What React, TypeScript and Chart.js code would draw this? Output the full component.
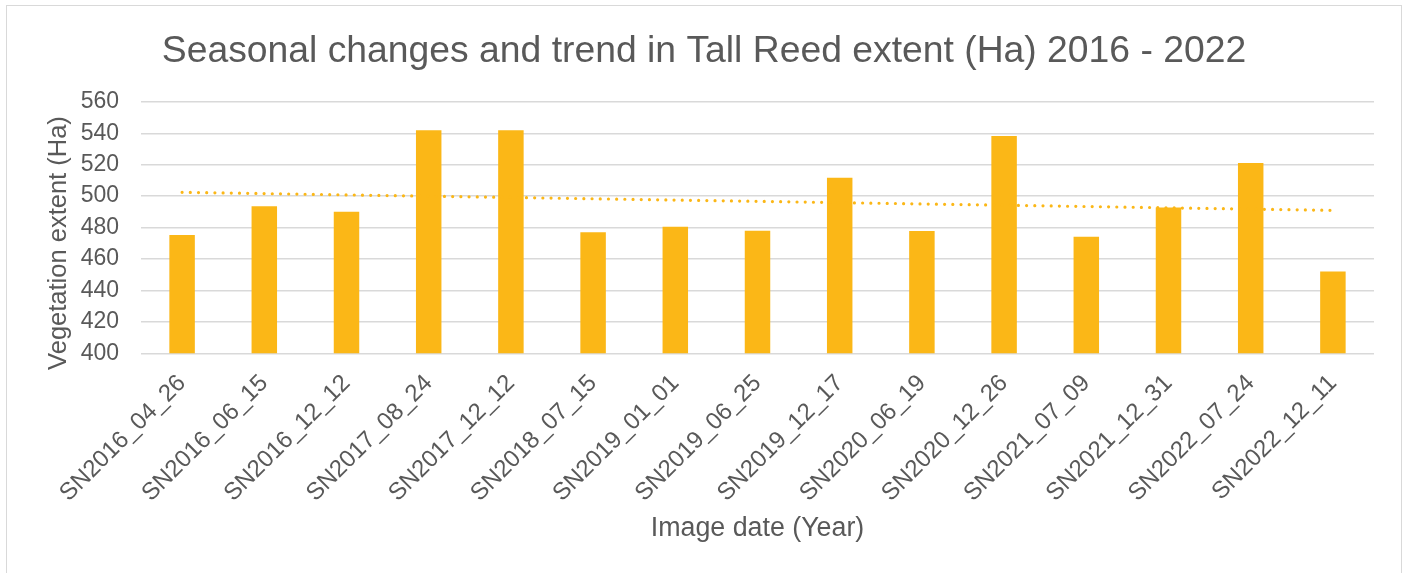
import { useEffect, useRef } from 'react';
import { Chart, registerables } from 'chart.js';

Chart.register(...registerables);

// Sentinel image acquisition dates (x categories)
const imageDates = [
  'SN2016_04_26',
  'SN2016_06_15',
  'SN2016_12_12',
  'SN2017_08_24',
  'SN2017_12_12',
  'SN2018_07_15',
  'SN2019_01_01',
  'SN2019_06_25',
  'SN2019_12_17',
  'SN2020_06_19',
  'SN2020_12_26',
  'SN2021_07_09',
  'SN2021_12_31',
  'SN2022_07_24',
  'SN2022_12_11',
];

// Tall Reed extent per image (Ha)
const tallReedHa = [
  475.2, 493.5, 490.0, 541.8, 541.8, 477.0, 480.5, 478.0, 511.7, 477.8, 538.2, 474.2, 492.8,
  521.0, 452.0,
];

// Linear trend line: value at the first and at the last image date
const trendStartHa = 502.4;
const trendEndHa = 490.9;

// Value axis range and step
const yMin = 400;
const yMax = 560;
const yStep = 20;

const chartTitle = 'Seasonal changes and trend in Tall Reed extent (Ha) 2016 - 2022';
const xAxisTitle = 'Image date (Year)';
const yAxisTitle = 'Vegetation extent (Ha)';

const GOLD = '#FBB717';
const TEXT = '#595959';
const GRID = '#D9D9D9';
const FONT = '"Liberation Sans", Arial, Helvetica, sans-serif';

// Trend series: only its two ends carry values, the line spans the gap
const trendSeries = imageDates.map((_, i) =>
  i === 0 ? trendStartHa : i === imageDates.length - 1 ? trendEndHa : null
);

// Draws the rotated value-axis title beside the tick labels
const yTitlePlugin = {
  id: 'yTitle',
  afterDraw(chart: any) {
    const { ctx, chartArea } = chart;
    ctx.save();
    ctx.translate(59, (chartArea.top + chartArea.bottom) / 2 + 15.5);
    ctx.rotate(-Math.PI / 2);
    ctx.font = `25.5px ${FONT}`;
    ctx.fillStyle = TEXT;
    ctx.textAlign = 'center';
    ctx.textBaseline = 'middle';
    ctx.fillText(yAxisTitle, 0, 0);
    ctx.restore();
  },
};

export default function App() {
  const canvasRef = useRef<HTMLCanvasElement | null>(null);

  useEffect(() => {
    const canvas = canvasRef.current;
    if (!canvas) return;
    const chart = new Chart(canvas, {
      type: 'bar',
      data: {
        labels: imageDates,
        datasets: [
          {
            type: 'line',
            label: 'Trend',
            data: trendSeries,
            borderColor: GOLD,
            borderWidth: 3.2,
            borderDash: [0, 8.2],
            borderCapStyle: 'round',
            pointRadius: 0,
            fill: false,
            spanGaps: true,
            order: 0,
          } as any,
          {
            type: 'bar',
            label: 'Tall Reed extent (Ha)',
            data: tallReedHa,
            backgroundColor: GOLD,
            borderWidth: 0,
            categoryPercentage: 1,
            barPercentage: 0.31,
            order: 1,
          },
        ],
      },
      options: {
        animation: false,
        responsive: false,
        maintainAspectRatio: false,
        layout: { padding: { left: 34, right: 34, top: 0, bottom: 0 } },
        plugins: {
          legend: { display: false },
          tooltip: { enabled: false },
          title: {
            display: true,
            text: chartTitle,
            color: TEXT,
            font: { family: FONT, size: 37.3, weight: 'normal' },
            padding: { top: 29, bottom: 28 },
          },
        },
        scales: {
          x: {
            grid: { display: false },
            border: { display: false },
            ticks: {
              color: TEXT,
              font: { family: FONT, size: 24 },
              minRotation: 45,
              maxRotation: 45,
              autoSkip: false,
              padding: 8,
            },
            title: {
              display: true,
              text: xAxisTitle,
              color: TEXT,
              font: { family: FONT, size: 26.8 },
              padding: { top: 0, bottom: 28 },
            },
            afterFit(scale: any) {
              scale.height = 573 - 353.3;
            },
          },
          y: {
            min: yMin,
            max: yMax,
            grid: { color: GRID, lineWidth: 1.4, drawTicks: false },
            border: { display: false },
            ticks: {
              stepSize: yStep,
              color: TEXT,
              font: { family: FONT, size: 23 },
              padding: 22,
            },
            afterFit(scale: any) {
              scale.width = 141 - 34;
            },
          },
        },
      },
      plugins: [yTitlePlugin],
    });
    return () => chart.destroy();
  }, []);

  return (
    <div
      style={{
        position: 'fixed',
        left: 0,
        top: 0,
        width: 1408,
        height: 573,
        background: '#fff',
        overflow: 'hidden',
      }}
    >
      <div
        style={{
          position: 'absolute',
          left: 6,
          top: 5,
          width: 1396,
          height: 620,
          border: `1.5px solid ${GRID}`,
          boxSizing: 'border-box',
        }}
      />
      <canvas
        ref={canvasRef}
        width={1408}
        height={573}
        style={{ position: 'absolute', left: 0, top: 0, width: 1408, height: 573 }}
      />
    </div>
  );
}
